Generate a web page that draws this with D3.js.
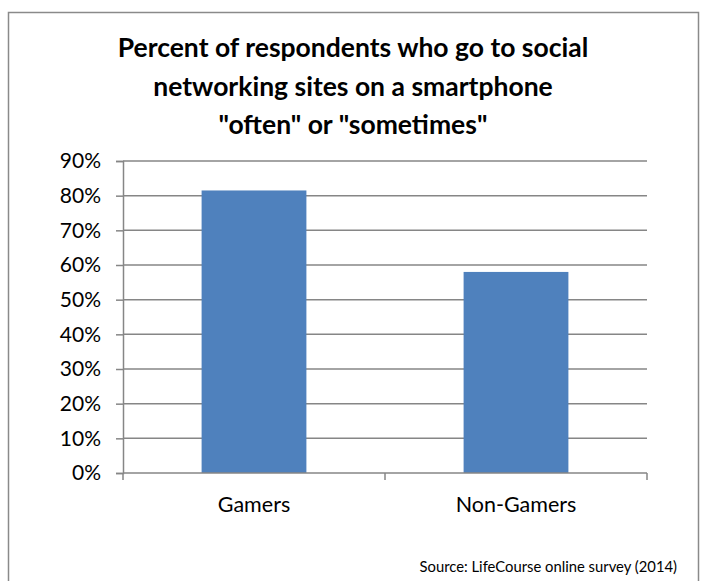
<!DOCTYPE html>
<html>
<head>
<meta charset="utf-8">
<script src="https://cdn.jsdelivr.net/npm/d3@7"></script>
<style>
  html, body { margin: 0; padding: 0; background: #fff; }
  svg { display: block; }
  text { font-family: Lato, "Open Sans", sans-serif; fill: #000; }
</style>
</head>
<body>
<svg id="chart" width="703" height="581"></svg>
<script>
// Chart data
const categories = ["Gamers", "Non-Gamers"];
const values = [81.5, 58];
const yTicks = [0, 10, 20, 30, 40, 50, 60, 70, 80, 90];
const titleLines = [
  "Percent of respondents who go to social",
  "networking sites on a smartphone",
  "\"often\" or \"sometimes\""
];
const sourceNote = "Source: LifeCourse online survey (2014)";

const svg = d3.select("#chart");

// Plot area
const plot = { left: 123, right: 647, top: 161, bottom: 473 };

// Outer chart frame
svg.append("rect")
  .attr("x", 8.5).attr("y", 12.5)
  .attr("width", 690).attr("height", 620)
  .attr("fill", "#fff")
  .attr("stroke", "#8a8a8a")
  .attr("stroke-width", 1.5);

// Title
svg.append("g")
  .selectAll("text")
  .data(titleLines)
  .join("text")
  .attr("x", 353)
  .attr("y", (d, i) => 57 + i * 38.5)
  .attr("text-anchor", "middle")
  .attr("font-weight", "bold")
  .attr("font-size", 26.5)
  .text(d => d);

const x = d3.scaleBand()
  .domain(categories)
  .range([plot.left, plot.right])
  .paddingInner(0.6)
  .paddingOuter(0.3);

const y = d3.scaleLinear()
  .domain([0, 90])
  .range([plot.bottom, plot.top]);

const gridColor = "#868686";

// Horizontal gridlines
svg.append("g")
  .selectAll("line")
  .data(yTicks.filter(t => t > 0))
  .join("line")
  .attr("x1", plot.left).attr("x2", plot.right)
  .attr("y1", d => y(d)).attr("y2", d => y(d))
  .attr("stroke", gridColor)
  .attr("stroke-width", 1.5);

// Bars
svg.append("g")
  .selectAll("rect")
  .data(categories.map((c, i) => ({ c, v: values[i] })))
  .join("rect")
  .attr("x", d => x(d.c))
  .attr("width", x.bandwidth())
  .attr("y", d => y(d.v))
  .attr("height", d => y(0) - y(d.v))
  .attr("fill", "#4f81bd");

// Y axis
const yAxis = d3.axisLeft(y)
  .tickValues(yTicks)
  .tickFormat(d => d + "%")
  .tickSize(7)
  .tickPadding(15);

const gy = svg.append("g")
  .attr("transform", `translate(${plot.left},0)`)
  .call(yAxis);
gy.select(".domain").attr("stroke", gridColor).attr("stroke-width", 1.5);
gy.selectAll(".tick line").attr("stroke", gridColor).attr("stroke-width", 1.5);
gy.selectAll(".tick text")
  .attr("font-size", 21)
  .attr("font-family", "Lato, sans-serif")
  .attr("fill", "#000");

// X axis: baseline with tick marks at category boundaries
const gx = svg.append("g");
gx.append("line")
  .attr("x1", plot.left).attr("x2", plot.right)
  .attr("y1", y(0)).attr("y2", y(0))
  .attr("stroke", gridColor).attr("stroke-width", 1.5);
const boundaries = [plot.left, x(categories[1]) - x.step() * x.paddingInner() / 2, plot.right];
gx.selectAll("line.tick")
  .data(boundaries)
  .join("line")
  .attr("class", "tick")
  .attr("x1", d => d).attr("x2", d => d)
  .attr("y1", y(0)).attr("y2", y(0) + 7)
  .attr("stroke", gridColor).attr("stroke-width", 1.5);
gx.selectAll("text")
  .data(categories)
  .join("text")
  .attr("x", d => x(d) + x.bandwidth() / 2)
  .attr("y", 512)
  .attr("text-anchor", "middle")
  .attr("font-size", 21.5)
  .text(d => d);

// Source note
svg.append("text")
  .attr("x", 677)
  .attr("y", 572)
  .attr("text-anchor", "end")
  .attr("font-size", 14.8)
  .text(sourceNote);
</script>
</body>
</html>
